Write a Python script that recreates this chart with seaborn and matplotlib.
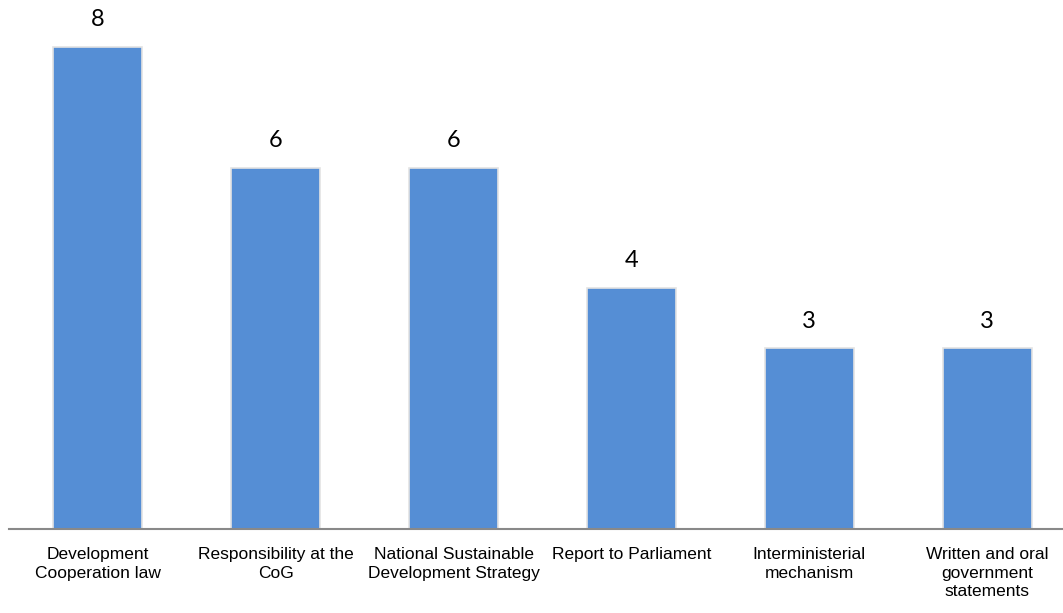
import matplotlib
matplotlib.use("Agg")
import matplotlib.pyplot as plt
import seaborn as sns
import pandas as pd

categories = ["Development\nCooperation law", "Responsibility at the\nCoG",
              "National Sustainable\nDevelopment Strategy", "Report to Parliament",
              "Interministerial\nmechanism", "Written and oral\ngovernment\nstatements"]
values = [8, 6, 6, 4, 3, 3]

sns.set_style("white")
plt.rcParams['font.family'] = ['Liberation Sans', 'DejaVu Sans']

df = pd.DataFrame({"cat": categories, "val": values})

fig = plt.figure(figsize=(10.63, 6.13), dpi=100)
ax = fig.add_axes([9/1063, 84/613, 1067/1063, 529/613])
sns.barplot(data=df, x="cat", y="val", color="#558ED5", saturation=1, width=0.5,
            edgecolor="#E3E3E3", linewidth=1.2, ax=ax)
ax.set_xlim(-0.5, 5.5)
ax.set_ylim(0, 529/60.25)
for c in ax.containers:
    ax.bar_label(c, labels=[str(v) for v in values], padding=12, fontsize=17,
                 family=['Lato', 'DejaVu Sans'], color="#000000")
ax.set_xlabel("")
ax.set_ylabel("")
ax.set_yticks([])
for s in ["top", "right", "left"]:
    ax.spines[s].set_visible(False)
ax.spines["bottom"].set_color("#898989")
ax.spines["bottom"].set_linewidth(1.5)
ax.tick_params(axis="x", length=0, pad=13, labelsize=12.5, colors="#000000")
for t in ax.get_xticklabels():
    t.set_linespacing(1.3)
fig.savefig("out.png", dpi=100)
